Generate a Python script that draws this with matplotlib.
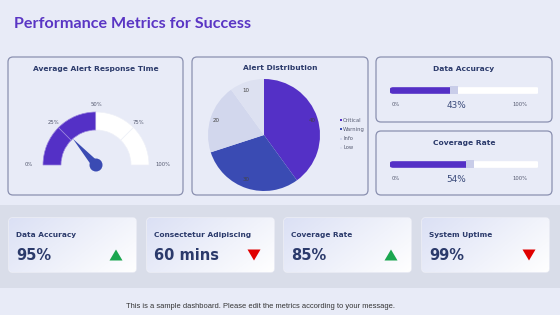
import numpy as np
import matplotlib
matplotlib.use("Agg")
import matplotlib.pyplot as plt
from matplotlib.patches import FancyBboxPatch, Wedge, Circle, Polygon, Rectangle

W, H = 560, 315

title = "Performance Metrics for Success"

# gauge
gauge_ticks = [0, 25, 50, 75, 100]
gauge_fill = 50
gauge_value = 27

# pie
pie_labels = ["Critical", "Warning", "Info", "Low"]
pie_values = [40, 30, 20, 10]
pie_colors = ["#5430c6", "#3a4bb3", "#d2d7ed", "#dde1f1"]

# progress bars
bar_titles = ["Data Accuracy", "Coverage Rate"]
bar_values = [43, 54]

# kpi cards
card_titles = ["Data Accuracy", "Consectetur Adipiscing", "Coverage Rate", "System Uptime"]
card_values = ["95%", "60 mins", "85%", "99%"]
card_trend = ["up", "down", "up", "down"]

footer = "This is a sample dashboard. Please edit the metrics according to your message."

BG = "#e8ebf7"
BAND = "#d9dde9"
NAVY = "#2b3a6b"
PURPLE = "#5430c6"
EDGE = "#8a90b0"
FONT = "DejaVu Sans"

fig = plt.figure(figsize=(W / 100, H / 100), dpi=100)
fig.patch.set_facecolor(BG)
ax = fig.add_axes([0, 0, 1, 1])
ax.set_xlim(0, W)
ax.set_ylim(H, 0)
ax.axis("off")


def px_axes(x0, y0, w, h):
    a = fig.add_axes([x0 / W, 1 - (y0 + h) / H, w / W, h / H])
    a.axis("off")
    return a


def panel(x0, y0, w, h):
    ax.add_patch(FancyBboxPatch((x0, y0), w, h, boxstyle="round,pad=0,rounding_size=5",
                                fc=BG, ec=EDGE, lw=0.9))


ax.text(14, 24, title, fontsize=11.6, fontweight="bold", color="#5a35c4",
        va="center", ha="left", family="Lato")

# top panels
panel(8, 57, 175, 138)
panel(192, 57, 176, 138)
panel(376, 57, 176, 65)
panel(376, 131, 176, 64)

# gauge
ax.text(96, 69, "Average Alert Response Time", fontsize=5.4, fontweight="bold",
        color=NAVY, ha="center", va="center", family=FONT)
cx, cy, r_out, r_in = 96, 165, 53, 35
for i in range(len(gauge_ticks) - 1):
    lo, hi = gauge_ticks[i], gauge_ticks[i + 1]
    col = PURPLE if hi <= gauge_fill else "white"
    a1 = 180 - hi * 1.8
    a2 = 180 - lo * 1.8
    ax.add_patch(Wedge((cx, cy), r_out, -a2, -a1, width=r_out - r_in, fc=col,
                       ec="#9a86de" if col == PURPLE else "#eef0f8", lw=0.5))
for t in gauge_ticks:
    ang = np.radians(180 - t * 1.8)
    rr = 67 if t in (0, 100) else 60
    ax.text(cx + rr * np.cos(ang), cy - rr * np.sin(ang),
            f"{t}%", fontsize=3.8, color="#555a70", ha="center", va="center", family=FONT)
ang = np.radians(180 - gauge_value * 1.8)
tip = (cx + 35 * np.cos(ang), cy - 35 * np.sin(ang))
perp = np.array([np.sin(ang), np.cos(ang)])
base1 = np.array([cx, cy]) + perp * 4
base2 = np.array([cx, cy]) - perp * 4
ax.add_patch(Polygon([tip, base1, base2], closed=True, fc="#3a4bb3", ec="none"))
ax.add_patch(Circle((cx, cy), 6.5, fc="#3a4bb3", ec="none"))

# pie
ax.text(280, 68, "Alert Distribution", fontsize=5.4, fontweight="bold",
        color=NAVY, ha="center", va="center", family=FONT)
pax = px_axes(264 - 56, 135 - 56, 112, 112)
wedges, texts = pax.pie(pie_values, colors=pie_colors, startangle=90, counterclock=False,
                        labels=[str(v) for v in pie_values], labeldistance=0.84,
                        textprops=dict(fontsize=4, color="#444"))
pax.set_xlim(-1, 1)
pax.set_ylim(-1, 1)
pax.set_aspect("equal")
for i, lab in enumerate(pie_labels):
    y = 120 + i * 9.3
    ax.scatter(340.5, y, s=3, marker="s", color=pie_colors[i], lw=0)
    ax.text(343, y, lab, fontsize=3.8, color="#555a70", va="center", ha="left", family=FONT)

# progress bars
for i, (t, v) in enumerate(zip(bar_titles, bar_values)):
    y0 = 57 + i * 74
    ax.text(464, y0 + 12, t, fontsize=5.4, fontweight="bold", color=NAVY,
            ha="center", va="center", family=FONT)
    bax = px_axes(390, y0 + 28, 148, 10)
    bax.set_xlim(0, 100)
    bax.set_ylim(-1, 1)
    bax.plot([1.5, 98.5], [0, 0], color="white", lw=4.8, solid_capstyle="round")
    bax.plot([1.5, v], [0, 0], color=PURPLE, lw=4.8, solid_capstyle="round")
    bax.plot([v], [0], marker="s", ms=5.5, color="#c9cde9", mew=0)
    ax.text(396, y0 + 47, "0%", fontsize=3.8, color="#555a70", ha="center", va="center", family=FONT)
    ax.text(520, y0 + 47, "100%", fontsize=3.8, color="#555a70", ha="center", va="center", family=FONT)
    ax.text(456, y0 + 49, f"{v}%", fontsize=6.4, color="#3a4a7a", ha="center", va="center", family=FONT)

# bottom band
ax.add_patch(Rectangle((0, 205), W, 83, fc=BAND, ec="none"))

grad = np.linspace(0, 1, 64)
gx, gy = np.meshgrid(grad, grad)
g = np.clip(0.65 * gx + 0.35 * gy, 0, 1)
c0 = np.array([0.86, 0.88, 0.96])
c1 = np.array([1.0, 1.0, 1.0])
img = c0[None, None, :] * (1 - g[..., None]) + c1[None, None, :] * g[..., None]

card_x = [9, 147, 284, 422]
for x0, t, v, tr in zip(card_x, card_titles, card_values, card_trend):
    y0, w, h = 218, 127, 54
    box = FancyBboxPatch((x0, y0), w, h, boxstyle="round,pad=0,rounding_size=3",
                         fc="none", ec="#f4f5fb", lw=0.8)
    ax.add_patch(box)
    im = ax.imshow(img, extent=(x0, x0 + w, y0 + h, y0), zorder=1)
    im.set_clip_path(box)
    ax.text(x0 + 7, y0 + 17, t, fontsize=5.3, fontweight="bold", color=NAVY,
            ha="left", va="center", family=FONT, zorder=3)
    ax.text(x0 + 7, y0 + 37, v, fontsize=10.5, fontweight="bold", color=NAVY,
            ha="left", va="center", family=FONT, zorder=3)
    tx, ty = x0 + 107, y0 + 37
    if tr == "up":
        tri = [(tx - 6.5, ty + 5.5), (tx + 6.5, ty + 5.5), (tx, ty - 5.5)]
        col = "#1aa64f"
    else:
        tri = [(tx - 6.5, ty - 5.5), (tx + 6.5, ty - 5.5), (tx, ty + 5.5)]
        col = "#e00000"
    ax.add_patch(Polygon(tri, closed=True, fc=col, ec="none", zorder=3))

ax.text(261, 307, footer, fontsize=5.4, color="#333333", ha="center", va="center",
        family="Liberation Sans")

fig.savefig("out.png", dpi=100, facecolor=BG)
